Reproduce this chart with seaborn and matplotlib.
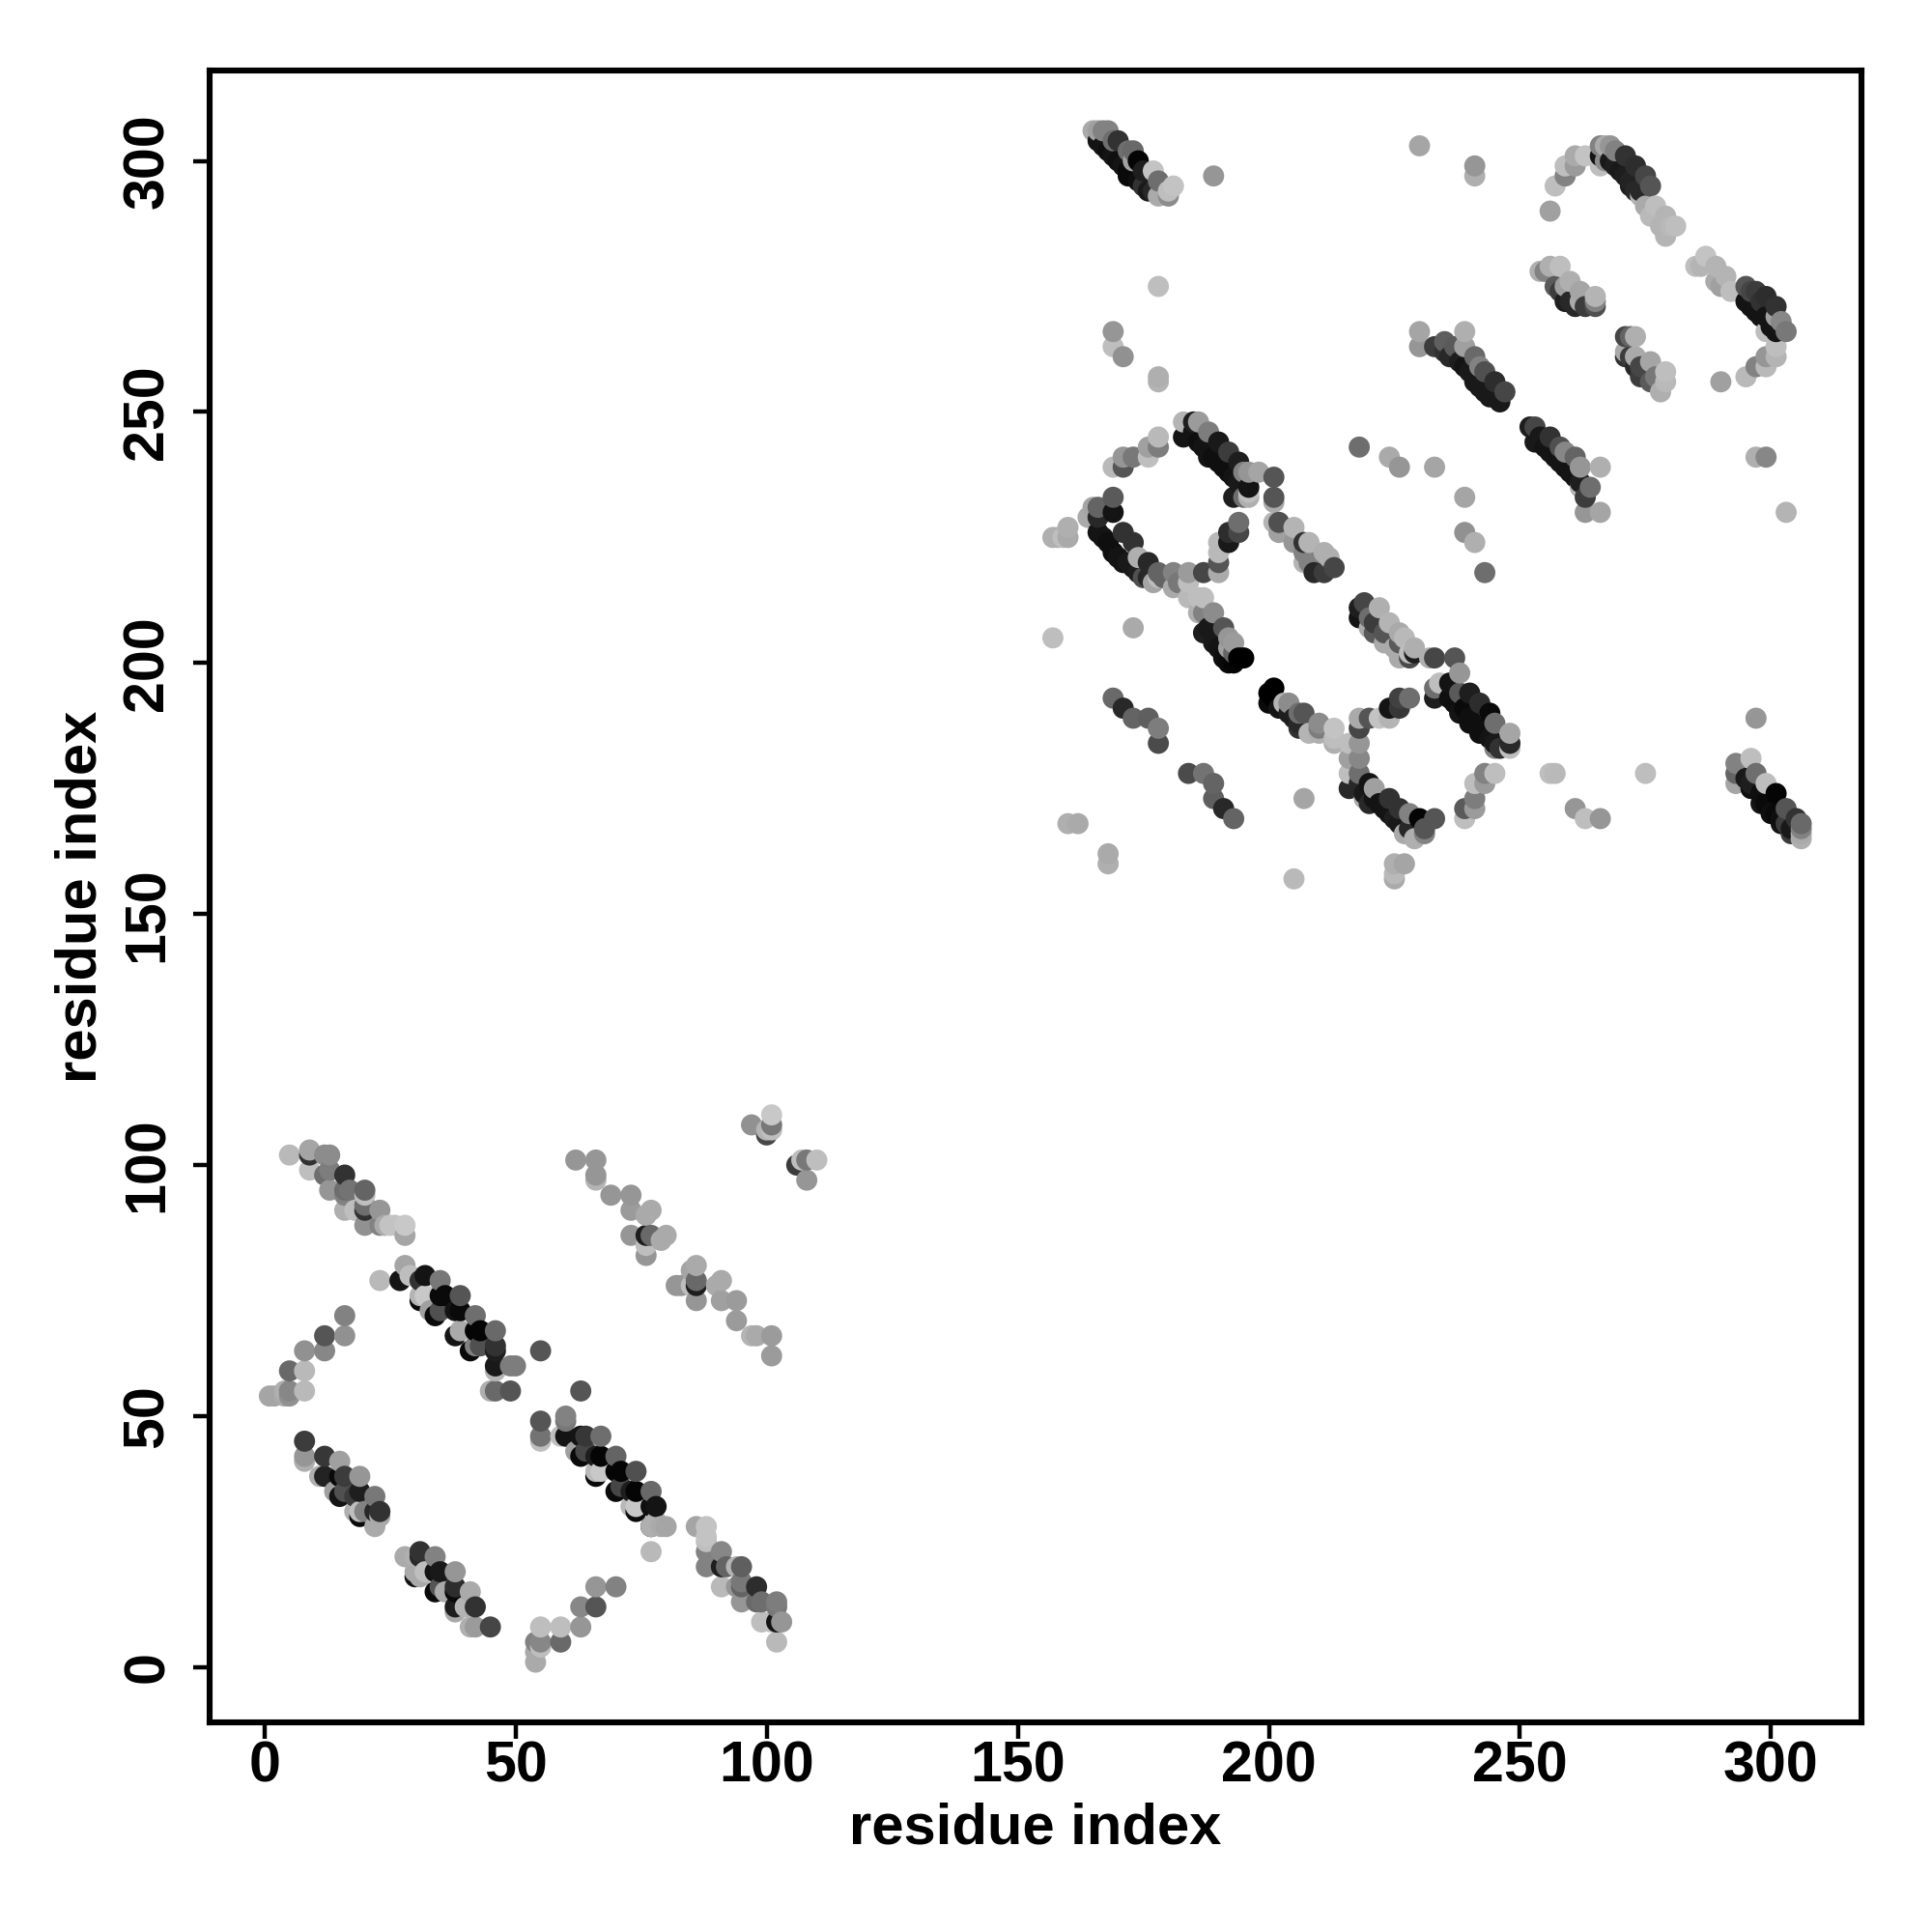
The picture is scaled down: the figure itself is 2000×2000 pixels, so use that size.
import matplotlib
matplotlib.use("Agg")
import matplotlib.pyplot as plt
import pandas as pd
import seaborn as sns

# N-terminal domain, strand pair around y 88-103
x_a = [5,9,9,9,12,13,12,13,16,13,16,16,17,20,20,20,20,16,18,23,20,23,24,25,26,28,28]
y_a = [102,103,102,99,102,102,98,99,98,95,94,95,95,95,94,92,91,91,91,91,88,88,88,88,88,88,86]
g_a = [185,165,50,190,140,140,110,125,50,150,130,110,115,100,190,110,50,175,190,150,145,130,170,195,195,200,165]

# long strand y 55-80
x_b = [28,27,29,23,31,32,35,31,31,32,35,36,39,35,34,33,39,38,42,39,38,42,43,46,43,42,41,46,46,46,46,49,50,55,45,46,49]
y_b = [80,77,78,77,77,78,77,74,73,74,74,74,74,71,70,71,71,71,70,67,66,67,67,67,64,64,63,64,63,60,59,60,60,63,55,55,55]
g_b = [165,20,190,185,50,20,120,180,10,200,10,10,85,80,10,160,10,20,110,170,20,5,5,105,80,130,10,50,30,25,180,125,125,85,175,105,85]

# arc at lower left
x_c = [16,16,12,8,12,5,8,8,1,2,4,5,5,4]
y_c = [70,66,66,63,63,59,59,55,54,54,55,55,54,54]
g_c = [130,145,85,145,135,105,185,185,165,165,175,135,145,170]

# strand pair y 8-45
x_d = [8,8,8,12,15,11,12,15,16,19,15,14,16,19,18,22,18,19,19,20,22,23,22,23,
       28,30,31,31,34,30,31,30,32,34,35,38,34,35,38,38,36,41,38,38,42,40,41,42,45]
y_d = [45,42,41,42,41,38,38,38,38,38,34,35,35,35,34,34,31,30,31,31,31,31,28,30,
       22,22,23,22,22,19,18,18,19,19,19,19,15,16,16,15,15,15,12,11,12,12,8,8,8]
g_d = [60,150,175,55,160,175,35,10,60,150,20,160,80,30,60,120,175,10,190,130,40,50,170,170,
       170,175,50,40,130,170,170,20,190,20,25,150,10,85,45,10,170,170,30,170,50,180,175,155,70]

# N-terminal, off diagonal clusters
x_e = [97,101,101,100,100,101,106,107,108,108,110,62,66,66,66,69,73,73,76,77,73,76,77,76,76,79,80,
       82,83,86,85,85,86,86,86,90,91,91,94,94,97,98,101,101]
y_e = [108,110,108,107,106,107,100,101,101,97,101,101,101,98,97,94,94,91,90,91,86,86,86,84,82,85,86,
       76,76,80,79,76,76,77,73,76,77,73,73,69,66,66,66,62]
g_e = [145,200,120,180,70,190,60,190,120,150,190,150,150,150,180,150,150,155,170,170,150,30,105,190,150,170,170,
       150,150,170,165,190,30,105,150,170,170,160,155,155,180,170,155,155]

# strand y 28-55
x_f = [63,55,55,55,60,60,59,60,63,64,67,63,62,64,67,66,70,66,66,67,70,71,74,70,71,73,74,77,73,74,74,77,78,77,78,77,80,79,77]
y_f = [55,49,46,45,50,49,46,46,46,46,46,42,43,43,42,42,42,39,38,39,39,39,39,35,36,35,35,35,32,31,32,32,32,28,29,28,28,28,23]
g_f = [85,85,115,190,130,120,190,20,20,55,110,10,160,70,5,30,100,185,10,200,5,5,80,10,70,30,5,105,185,10,200,15,20,10,175,175,165,170,185]

# strand y 5-28
x_g = [86,88,88,88,88,88,91,91,92,94,95,91,94,95,95,98,95,98,99,102,102,99,101,102,103,102]
y_g = [28,28,26,25,23,20,23,20,20,20,20,16,16,16,17,16,13,13,13,13,12,9,9,9,9,5]
g_g = [165,195,195,190,130,130,135,30,100,180,95,185,150,100,120,45,150,105,110,125,120,190,190,20,150,185]

# lower middle arc
x_h = [66,70,63,66,55,59,63,59,54,55,55,54,54]
y_h = [16,16,12,12,8,8,8,5,5,5,4,1,3]
g_h = [150,130,135,85,190,190,150,105,130,135,190,170,170]

# C-terminal domain: top strand y 293-306
x_i = [165,166,167,168,166,167,170,169,172,173,169,171,172,173,174,175,177,175,178,178,180,180,181,189,178,169,169,171,178,178,
       168,170,172,174,176,177]
y_i = [306,306,306,306,304,303,304,304,302,302,301,299,297,300,300,298,298,295,296,293,293,294,295,297,275,266,263,261,257,256,
       302,300,298,296,294,294]
g_i = [170,160,130,130,20,20,50,110,110,105,20,20,10,160,5,30,195,50,110,170,140,190,195,150,190,150,190,145,175,180,
       15,15,10,15,25,40]

# top right arc y 285-303
x_j = [256,257,259,259,261,261,263,266,266,266,267,268,269,267,271,269,273,271,275,272,273,276,274,275,276,277,278,279,279,280,281,
       268,270,272,274]
y_j = [290,295,297,299,299,301,301,303,301,299,303,303,302,300,301,299,299,297,297,296,294,295,293,291,289,291,287,289,285,287,287,
       300,298,295,294]
g_j = [160,190,130,190,155,170,195,130,20,190,170,150,130,140,50,30,45,30,70,35,40,85,180,170,185,190,180,180,180,185,190,
       25,25,30,40]

# right arc y 256-281
x_k = [285,286,287,289,289,290,291,292,295,296,297,295,299,297,301,299,302,301,301,303,299,301,301,299,299,297,295,290,
       296,298,300,298]
y_k = [279,279,281,279,276,275,277,274,275,274,274,272,273,270,271,269,268,269,266,266,266,263,261,261,259,259,257,256,
       271,269,267,272]
g_k = [190,180,195,180,170,160,180,190,85,70,60,20,45,20,50,20,135,160,20,120,190,190,180,150,185,130,185,160,
       20,20,20,50]

# two short strands y 254-279
x_l = [254,256,258,255,257,259,260,259,261,262,262,265,265,265,271,272,273,271,271,273,273,276,274,279,279,278,277,
       258,260,263,272,274,276]
y_l = [278,279,279,278,275,272,276,275,271,274,272,273,272,271,265,265,265,262,261,261,259,260,257,258,256,254,257,
       274,272,271,261,259,256]
g_l = [175,175,190,130,90,30,175,160,40,165,170,180,130,80,70,100,175,170,50,170,40,165,60,190,185,175,120,
       60,40,60,60,70,90]

# strand y 252-266 and y 233-247
x_m = [230,230,233,235,235,239,239,237,238,241,242,240,243,242,245,244,247,246,
       253,252,253,256,255,258,259,261,258,260,262,266,264,262,262,263,263,266,
       236,239,241,243,245,254,256,257,259,261]
y_m = [266,263,263,264,262,266,263,263,260,261,259,258,258,255,256,253,254,252,
       247,247,244,245,243,243,242,241,240,238,239,239,235,236,235,233,230,230,
       261,259,256,254,253,245,242,241,239,237]
g_m = [165,150,60,95,50,175,160,90,30,105,130,25,80,25,45,25,70,25,
       70,30,25,50,20,80,135,100,20,20,150,175,110,30,180,60,150,165,
       40,20,25,25,25,25,20,20,20,20]

# scattered points, middle right
x_n = [218,224,226,233,239,239,241,243,230,241,241,303,297,299,297]
y_n = [243,241,239,239,233,226,224,218,303,299,297,230,241,241,189]
g_n = [110,170,150,165,165,145,175,110,165,150,175,180,175,135,150]

# strand y 233-248 with links
x_o = [183,183,185,186,188,187,190,192,188,194,191,193,196,195,198,201,196,196,193,195,196,201,201,
       185,186,189,190,192,194]
y_o = [248,245,248,248,246,243,244,242,241,240,239,237,238,238,238,237,235,234,233,233,233,233,232,
       246,244,241,240,238,236]
g_o = [180,20,30,155,125,20,25,60,20,30,15,20,150,130,165,85,20,190,30,110,175,85,170,
       20,15,15,15,15,25]

# strand y 218-228
x_p = [201,202,202,205,205,207,208,207,207,208,209,211,212,211,213]
y_p = [228,228,226,227,224,224,224,222,220,220,218,222,221,218,219]
g_p = [180,80,160,180,150,50,180,130,180,130,40,175,175,60,70]

# loop y 213-233
x_q = [169,169,166,165,164,166,167,169,171,172,173,174,176,175,178,177,178,181,181,182,184,184,184,187,186,187,190,190,190,190,192,192,194,194,
       166,168,170,171,173,174,176,179]
y_q = [233,230,231,231,229,229,225,222,226,220,224,221,220,217,218,216,217,218,215,216,218,216,213,213,213,218,218,220,222,224,224,226,226,228,
       226,224,221,220,219,218,217,217]
g_q = [90,20,100,165,170,40,20,15,50,25,50,175,40,80,100,165,190,130,170,120,155,190,185,190,190,70,170,85,185,185,25,45,70,110,
       20,15,20,20,25,30,40,100]

# small arc and leftmost points
x_r = [171,169,171,173,176,176,178,178,157,158,160,160,159,157,173]
y_r = [239,239,241,241,241,243,243,245,225,225,227,225,225,205,207]
g_r = [85,185,150,120,190,160,125,185,175,175,175,170,190,190,170]

# strand y 200-210
x_s = [186,187,189,187,191,189,192,193,192,193,195,194,192,188,190,191,193]
y_s = [210,210,210,206,207,204,205,204,200,200,201,201,203,207,203,201,202]
g_s = [175,130,140,30,85,25,150,155,10,5,0,0,160,25,20,15,100]

# parallel short strand y 169-193
x_t = [169,171,173,176,178,178,184,187,189,189,191,193]
y_t = [193,191,189,189,187,184,178,178,176,173,171,169]
g_t = [105,40,100,95,125,75,75,115,100,95,40,100]

# lone lower points
x_u = [207,205,160,162,168,168,225,227,225,225]
y_u = [173,157,168,168,162,160,160,160,158,157]
g_u = [165,185,175,170,170,175,175,165,185,170]

# strand y 184-195
x_v = [201,200,200,201,204,203,206,204,206,207,208,210,210,210,213,213,213,202,205,206]
y_v = [195,194,192,193,192,192,190,190,187,190,186,188,187,186,187,185,184,191,189,188]
g_v = [0,0,10,0,140,180,110,30,50,85,180,140,125,175,195,190,175,20,30,40]

# strand y 165-190
x_w = [218,220,218,222,224,224,226,226,228,218,216,218,216,218,216,216,220,221,219,224,220,226,223,225,230,233,228,231,227,229,231,
       218,219,221,222,224,226,228]
y_w = [189,189,187,189,189,191,191,193,193,184,184,181,181,178,178,175,176,175,173,173,172,171,171,169,169,169,170,167,166,165,166,
       176,174,173,172,170,168,167]
g_w = [170,85,70,195,180,20,55,65,110,150,190,135,160,110,190,40,20,160,170,50,40,50,20,30,5,85,130,85,170,175,130,
       40,25,20,20,20,25,40]

# strand y 201-212
x_x = [218,218,219,220,221,222,220,223,224,226,226,225,227,229,229,228,228,226,232,233,237,221,223]
y_x = [211,209,212,209,208,211,207,206,208,206,204,203,205,203,202,201,202,201,201,201,201,206,204]
g_x = [30,20,70,110,60,175,170,85,180,170,90,170,185,175,30,75,190,170,175,70,85,90,170]

# strand y 183-198
x_y = [233,233,234,236,238,240,238,242,236,238,244,245,240,242,245,248,248,248,245,237,239,240,242,244,246]
y_y = [193,195,196,196,198,194,194,192,193,190,190,188,189,187,184,186,184,183,183,192,191,188,186,185,183]
g_y = [30,110,190,20,150,30,90,45,15,20,10,110,15,15,25,165,40,190,130,15,10,15,15,20,50]

# lower right points
x_z = [243,245,241,243,241,241,239,239,256,257,261,263,266,275]
y_z = [178,178,176,176,173,171,171,169,178,178,171,169,169,178]
g_z = [130,190,190,155,125,155,90,190,190,185,150,190,150,190]

# far right strand y 165-181
x_aa = [293,293,293,296,297,296,299,301,298,303,300,305,302,306,306,306,306,303,304,295,296,298,299,301,302,304]
y_aa = [180,178,176,181,178,176,176,174,172,171,170,169,168,168,167,166,165,168,166,177,175,174,172,170,169,167]
g_aa = [130,100,165,190,110,30,190,5,20,85,15,50,20,105,130,170,175,60,60,25,15,15,10,10,15,25]

tick_values = [0, 50, 100, 150, 200, 250, 300]
axis_title = "residue index"

groups = [(x_a,y_a,g_a),(x_b,y_b,g_b),(x_c,y_c,g_c),(x_d,y_d,g_d),(x_e,y_e,g_e),(x_f,y_f,g_f),
          (x_g,y_g,g_g),(x_h,y_h,g_h),(x_i,y_i,g_i),(x_j,y_j,g_j),(x_k,y_k,g_k),(x_l,y_l,g_l),
          (x_m,y_m,g_m),(x_n,y_n,g_n),(x_o,y_o,g_o),(x_p,y_p,g_p),(x_q,y_q,g_q),(x_r,y_r,g_r),
          (x_s,y_s,g_s),(x_t,y_t,g_t),(x_u,y_u,g_u),(x_v,y_v,g_v),(x_w,y_w,g_w),(x_x,y_x,g_x),
          (x_y,y_y,g_y),(x_z,y_z,g_z),(x_aa,y_aa,g_aa)]
df = pd.concat([pd.DataFrame({"x": a, "y": b, "grey": c}) for a, b, c in groups], ignore_index=True)
df = df.sort_values(["x", "y"], kind="stable")

sns.set_theme(style="white")
plt.rcParams["font.family"] = ["Liberation Sans", "DejaVu Sans"]
plt.rcParams["font.weight"] = "bold"

fig = plt.figure(figsize=(10, 10), dpi=200)
ax = fig.add_axes([217/2000, 1 - 1783/2000, 1710/2000, 1710/2000])
sns.scatterplot(data=df, x="x", y="y", hue="grey", palette="gray", hue_norm=(0, 255),
                s=62, linewidth=0, legend=False, ax=ax, zorder=3)

ax.set_xlim(-10.9, 318)
ax.set_ylim(-11, 318)
ax.set_xticks(tick_values)
ax.set_yticks(tick_values)
ax.set_xticklabels([str(t) for t in tick_values], fontsize=21.3, fontweight="bold", color="black")
ax.set_yticklabels([str(t) for t in tick_values], fontsize=21.3, fontweight="bold", color="black",
                   rotation=90, va="center")
ax.tick_params(axis="x", length=6, width=1.6, color="black", direction="out", bottom=True, pad=0.5)
ax.tick_params(axis="y", length=6, width=1.6, color="black", direction="out", left=True, pad=7)
ax.set_xlabel(axis_title, fontsize=21.5, fontweight="bold", color="black", labelpad=3.5)
ax.set_ylabel(axis_title, fontsize=21.5, fontweight="bold", color="black", labelpad=5)
for spine in ax.spines.values():
    spine.set_visible(True)
    spine.set_color("black")
    spine.set_linewidth(2.2)
ax.grid(False)
fig.savefig("out.png", dpi=200, facecolor="white")
